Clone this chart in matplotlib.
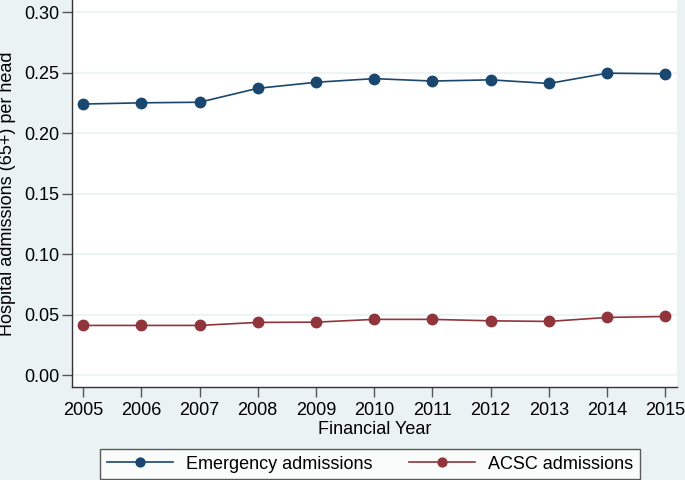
import numpy as np
import matplotlib
matplotlib.use("Agg")
import matplotlib.pyplot as plt

years = [2005, 2006, 2007, 2008, 2009, 2010, 2011, 2012, 2013, 2014, 2015]
emergency = [0.224, 0.225, 0.2255, 0.237, 0.242, 0.245, 0.243, 0.244, 0.241, 0.2495, 0.249]
acsc = [0.041, 0.041, 0.041, 0.0435, 0.0437, 0.046, 0.046, 0.0448, 0.0443, 0.0476, 0.0484]
yticks = [0.00, 0.05, 0.10, 0.15, 0.20, 0.25, 0.30]

bg = '#EAF2F3'
navy = '#1A476F'
maroon = '#90353B'

plt.rcParams['font.family'] = ['Liberation Sans', 'DejaVu Sans']

fig = plt.figure(figsize=(6.85, 4.8), dpi=100, facecolor=bg)
ax = fig.add_axes([0.1051, 0.19375, 0.8832, 0.80625])
ax.set_facecolor('white')

ax.plot(years, emergency, color=navy, lw=1.2, marker='o', ms=7.5, label='Emergency admissions')
ax.plot(years, acsc, color=maroon, lw=1.2, marker='o', ms=7.5, label='ACSC admissions')

ax.set_xlim(2004.81, 2015.2)
ax.set_ylim(-0.0099, 0.31)
ax.set_yticks(yticks)
ax.set_yticklabels(['%.2f' % v for v in yticks])
ax.set_xticks(years)
ax.grid(axis='y', color=bg, lw=1.2)
ax.set_axisbelow(True)

for s in ['top', 'right']:
    ax.spines[s].set_visible(False)
for s in ['left', 'bottom']:
    ax.spines[s].set_color('#333333')
    ax.spines[s].set_linewidth(1.0)
ax.tick_params(axis='both', length=7, width=1, color='#555555', labelsize=13)
ax.tick_params(axis='x', pad=4)
ax.tick_params(axis='y', pad=2)

ax.set_ylabel('Hospital admissions (65+) per head', fontsize=13)
ax.yaxis.set_label_coords(-0.0926, 0.5)
ax.set_xlabel('Financial Year', fontsize=13)
ax.xaxis.set_label_coords(0.5, -0.087)

leg = fig.legend(loc='lower center', bbox_to_anchor=(0.540, 0.002), ncol=2, fontsize=13,
                 frameon=True, fancybox=False, edgecolor='#333333', facecolor='white',
                 handlelength=3.7, columnspacing=2.0, borderpad=0.35, handletextpad=0.7,
                 borderaxespad=0, markerscale=0.85)
leg.get_frame().set_linewidth(1.0)

fig.savefig('out.png', dpi=100, facecolor=bg)
